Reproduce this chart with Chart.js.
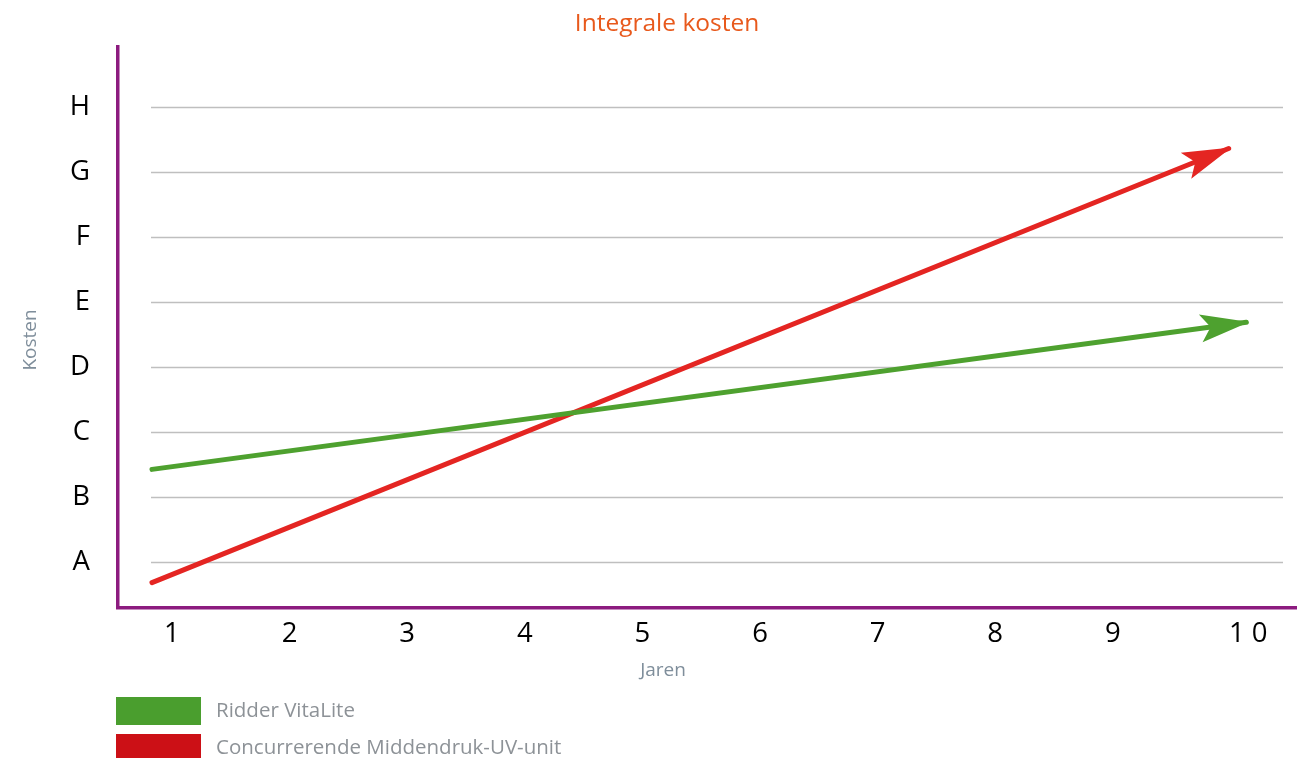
<!DOCTYPE html>
<html>
<head>
<meta charset="utf-8">
<title>Integrale kosten</title>
<script src="https://cdn.jsdelivr.net/npm/chart.js@4/dist/chart.umd.min.js"></script>
<style>
  html, body { margin: 0; padding: 0; background: #fff; }
  #wrap { width: 1297px; height: 758px; }
</style>
</head>
<body>
<div id="wrap"><canvas id="chartKosten" width="1297" height="758"></canvas></div>
<script>
// ---- data ----
const jaren = [1, 2, 3, 4, 5, 6, 7, 8, 9, 10];
const jaarLabels = ["1", "2", "3", "4", "5", "6", "7", "8", "9", "1 0"];
const kostenNiveaus = [1, 2, 3, 4, 5, 6, 7, 8];
const kostenLabels = ["A", "B", "C", "D", "E", "F", "G", "H"];

const vitaLiteX = [0.83, 10.135];
const vitaLiteY = [2.43, 4.69];
const concurrentX = [0.83, 9.985];
const concurrentY = [0.69, 7.36];

const reeksNamen = ["Ridder VitaLite", "Concurrerende Middendruk-UV-unit"];

const PAARS = "#8c1b7f";
const FONT = "'Open Sans', 'Noto Sans', sans-serif";

function punten(xs, ys) {
  return xs.map((x, i) => ({ x: x, y: ys[i] }));
}

// grijze hulplijnen, iets ingesprongen t.o.v. de assen
const hulplijnen = {
  id: "hulplijnen",
  beforeDatasetsDraw(chart) {
    const { ctx, chartArea, scales } = chart;
    ctx.save();
    ctx.strokeStyle = "#bfbfbf";
    ctx.lineWidth = 1.3;
    kostenNiveaus.forEach(v => {
      const y = Math.round(scales.y.getPixelForValue(v)) + 0.5;
      ctx.beginPath();
      ctx.moveTo(chartArea.left + 33, y);
      ctx.lineTo(chartArea.right - 14, y);
      ctx.stroke();
    });
    ctx.restore();
  }
};

// pijlpunten aan het eind van elke lijn (punt iets voorbij de ronde lijnkop)
const pijlen = {
  id: "pijlen",
  afterDatasetsDraw(chart) {
    const ctx = chart.ctx;
    chart.data.datasets.forEach((ds, i) => {
      const pts = chart.getDatasetMeta(i).data;
      const a = pts[pts.length - 2], b = pts[pts.length - 1];
      const hoek = Math.atan2(b.y - a.y, b.x - a.x);
      ctx.save();
      ctx.translate(b.x, b.y);
      ctx.rotate(hoek);
      ctx.fillStyle = ds.borderColor;
      ctx.beginPath();
      ctx.moveTo(3, 0);
      ctx.lineTo(-46, -14);
      ctx.lineTo(-36, 0);
      ctx.lineTo(-46, 14);
      ctx.closePath();
      ctx.fill();
      ctx.restore();
    });
  }
};

// titel, astitels en legenda
const teksten = {
  id: "teksten",
  afterDraw(chart) {
    const ctx = chart.ctx;
    ctx.save();
    ctx.textBaseline = "middle";

    ctx.fillStyle = "#e8591c";
    ctx.textAlign = "center";
    ctx.font = "24.5px " + FONT;
    ctx.fillText("Integrale kosten", 667, 24);

    ctx.fillStyle = "#7f8e9b";
    ctx.font = "19px " + FONT;
    ctx.fillText("Jaren", 663, 671);
    ctx.save();
    ctx.translate(31, 340);
    ctx.rotate(-Math.PI / 2);
    ctx.fillText("Kosten", 0, 0);
    ctx.restore();

    ctx.textAlign = "left";
    ctx.font = "20.5px " + FONT;
    chart.data.datasets.forEach((ds, i) => {
      const y = 697 + i * 37;
      ctx.fillStyle = ds.legendColor;
      ctx.fillRect(116, y, 85, 28);
      ctx.fillStyle = "#8d9297";
      ctx.fillText(ds.label, 216, y + 14);
    });
    ctx.restore();
  }
};

new Chart(document.getElementById("chartKosten"), {
  type: "line",
  data: {
    datasets: [
      {
        label: reeksNamen[0],
        data: punten(vitaLiteX, vitaLiteY),
        borderColor: "#4ea12f",
        legendColor: "#4a9e2e",
        borderWidth: 5,
        borderCapStyle: "round",
        pointRadius: 0,
        clip: false
      },
      {
        label: reeksNamen[1],
        data: punten(concurrentX, concurrentY),
        borderColor: "#e42522",
        legendColor: "#cc1016",
        borderWidth: 5,
        borderCapStyle: "round",
        pointRadius: 0,
        clip: false
      }
    ]
  },
  options: {
    responsive: false,
    animation: false,
    layout: { padding: { top: 47, bottom: 68, left: 0, right: 0 } },
    plugins: {
      legend: { display: false },
      tooltip: { enabled: false }
    },
    scales: {
      x: {
        type: "linear",
        min: 0.541,
        max: 10.566,
        afterBuildTicks: s => { s.ticks = jaren.map(v => ({ value: v })); },
        afterFit: s => { s.height = 82; },
        grid: { display: false, drawTicks: false },
        border: { color: PAARS, width: 3.5 },
        ticks: {
          padding: 10,
          color: "#000",
          font: { family: FONT, size: 27.5 },
          callback: v => {
            const lbl = jaarLabels[jaren.indexOf(v)];
            return v === 10 ? "\u00a0\u00a0\u00a0\u00a0\u00a0" + lbl : lbl;
          }
        }
      },
      y: {
        type: "linear",
        min: 0.30,
        max: 8.92,
        afterBuildTicks: s => { s.ticks = kostenNiveaus.map(v => ({ value: v })); },
        afterFit: s => { s.width = 118; },
        grid: { display: false, drawTicks: false },
        border: { color: PAARS, width: 3.5 },
        ticks: {
          padding: 28,
          color: "#000",
          font: { family: FONT, size: 27.5 },
          callback: v => kostenLabels[kostenNiveaus.indexOf(v)]
        }
      }
    }
  },
  plugins: [hulplijnen, pijlen, teksten]
});
</script>
</body>
</html>
